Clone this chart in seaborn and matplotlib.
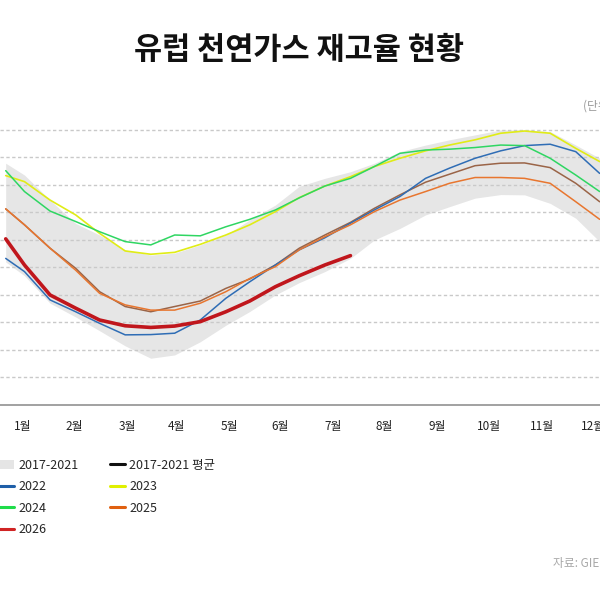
"""
유럽 천연가스 재고율 현황 - storage level by day of year, 2017-2021 range and recent years.
"""

# ------------------------------------------------ IMPORTS ------------------------------------------------ #

import matplotlib
matplotlib.use('Agg')
import matplotlib.pyplot as plt
from matplotlib.lines import Line2D
from matplotlib.patches import Patch
import seaborn as sns
import pandas as pd

# ----------------------------------------------- CONSTANTS ----------------------------------------------- #

# day of year for every sampled point
days = [1, 12, 27, 42, 56, 71, 86, 100, 115, 130, 144, 159, 173,
        188, 203, 217, 232, 247, 261, 276, 291, 305, 320, 335, 349]

# 2017-2021 range (%)
band_max = [87.9, 83.6, 74.5, 66.0, 61.8, 56.4, 54.5, 55.2, 58.2, 61.8, 67.3, 72.7, 79.5,
            82.4, 84.8, 87.9, 92.1, 94.5, 96.4, 98.2, 100.0, 100.0, 99.4, 94.5, 89.7]
band_min = [52.0, 47.0, 37.0, 32.0, 27.0, 21.5, 17.0, 18.2, 23.0, 29.0, 34.0, 40.0, 44.5,
            48.5, 53.3, 60.0, 64.2, 69.1, 72.1, 75.2, 76.5, 76.4, 73.3, 67.9, 59.4]

avg_1721 = [71.3, 65.5, 57.0, 49.7, 41.2, 35.8, 33.9, 35.8, 37.8, 42.4, 45.8, 50.9, 57.0,
            61.8, 66.4, 71.5, 76.4, 81.0, 83.9, 87.0, 87.9, 88.0, 86.3, 80.6, 73.9]
y2022 = [53.3, 48.5, 38.2, 33.9, 29.7, 25.5, 25.6, 26.1, 30.9, 38.8, 44.8, 50.9, 56.4,
         60.8, 66.1, 70.9, 75.8, 82.4, 86.1, 89.7, 92.4, 94.3, 94.8, 92.1, 84.2]
y2023 = [83.4, 81.2, 74.5, 69.1, 62.4, 56.0, 54.8, 55.5, 58.4, 61.8, 65.5, 70.3, 75.4,
         79.6, 83.0, 86.7, 89.7, 92.4, 94.5, 96.4, 98.8, 99.6, 98.8, 93.3, 88.5]
y2024 = [85.2, 77.6, 70.5, 66.7, 63.0, 59.4, 58.2, 61.8, 61.5, 64.8, 67.5, 70.9, 75.3,
         79.6, 82.4, 86.7, 91.5, 92.7, 93.0, 93.6, 94.5, 94.3, 89.7, 83.6, 77.6]
y2025 = [71.3, 65.5, 57.0, 49.0, 40.6, 36.4, 34.5, 34.5, 37.0, 41.2, 46.0, 50.3, 56.4,
         61.2, 65.5, 70.3, 74.5, 77.6, 80.6, 82.7, 82.7, 82.4, 80.6, 73.9, 67.5]
y2026 = [60.4, 50.9, 40.0, 35.2, 30.9, 28.8, 28.2, 28.7, 30.3, 33.9, 37.8, 43.0, 47.0,
         50.9, 54.3]

month_labels = ['1월', '2월', '3월', '4월', '5월', '6월', '7월', '8월', '9월', '10월', '11월', '12월']
month_ticks = [11, 41, 72, 101, 132, 162, 193, 223, 254, 284, 315, 345]

# series name, values, colour in chart, colour in legend, width
series = [
    ('2017-2021 평균', avg_1721, '#9a6447', '#111111', 1.1),
    ('2022', y2022, '#2f6db5', '#1f5fa8', 1.1),
    ('2023', y2023, '#e0ec16', '#e0f000', 1.2),
    ('2024', y2024, '#2fd662', '#1fdc4a', 1.1),
    ('2025', y2025, '#e8762f', '#e06010', 1.1),
    ('2026', y2026, '#c0161c', '#d02424', 2.6),
]

FONT = ['Noto Sans CJK KR', 'DejaVu Sans']


# ----------------------------------------------- FUNCTIONS ----------------------------------------------- #

def build_frame():
    rows = []
    for name, vals, _, _, _ in series:
        for d, v in zip(days, vals):
            rows.append((name, d, v))
    return pd.DataFrame(rows, columns=['series', 'day', 'value'])


def plot_fig(df):
    sns.set_theme(style='white')
    plt.rcParams['font.family'] = FONT

    fig = plt.figure(figsize=(6, 6), dpi=100)
    # plot area runs past both image edges, like the cropped original
    ax = fig.add_axes([0, 0.325, 1, 0.4667])

    ax.fill_between(days, band_min, band_max, color='#e6e6e6', linewidth=0, zorder=1)
    for lvl in range(10, 101, 10):
        ax.axhline(lvl, color='#c9c9c9', linewidth=1.0, linestyle=(0, (2.4, 1.8)), zorder=1.5)

    for name, _, color, _, lw in series:
        sub = df[df['series'] == name]
        sns.lineplot(data=sub, x='day', y='value', ax=ax, color=color, linewidth=lw,
                     zorder=3 if name != '2026' else 4, legend=False)

    ax.set_xlim(-2.34, 349.2)
    ax.set_ylim(0, 101.8)
    ax.set_xticks(month_ticks)
    ax.set_xticklabels(month_labels, fontsize=8.5, color='#222222')
    ax.tick_params(axis='x', length=0, pad=11)
    ax.set_yticks([])
    ax.set_xlabel('')
    ax.set_ylabel('')
    for side in ['top', 'left', 'right']:
        ax.spines[side].set_visible(False)
    ax.spines['bottom'].set_color('#9a9a9a')
    ax.spines['bottom'].set_linewidth(1.3)

    fig.text(0.498, 1 - 50 / 600, '유럽 천연가스 재고율 현황', ha='center', va='center',
             fontsize=22, fontweight='bold', color='#111111', family=FONT)
    fig.text(583 / 600, 1 - 106 / 600, '(단위: %)', ha='left', va='center',
             fontsize=8.5, color='#9a9a9a', family=FONT)
    fig.text(553 / 600, 1 - 563 / 600, '자료: GIE', ha='left', va='center',
             fontsize=8.5, color='#a8a8a8', family=FONT)

    handles = {'2017-2021': Patch(facecolor='#e5e5e5', edgecolor='none')}
    for name, _, _, lcolor, _ in series:
        handles[name] = Line2D([0], [0], color=lcolor, linewidth=2.2)
    order = ['2017-2021', '2022', '2024', '2026', '2017-2021 평균', '2023', '2025']
    fig.legend([handles[k] for k in order], order, loc='upper left',
               bbox_to_anchor=(-0.0017, 1 - 459 / 600), ncol=2, frameon=False,
               handlelength=1.2, handleheight=0.8, handletextpad=0.35,
               columnspacing=2.5, labelspacing=0.67, borderpad=0, borderaxespad=0,
               prop={'family': FONT, 'size': 9})

    fig.savefig('out.png', dpi=100)


# ------------------------------------------------- MAIN ------------------------------------------------- #

def main():
    df = build_frame()
    plot_fig(df)


if __name__ == '__main__':
    main()
